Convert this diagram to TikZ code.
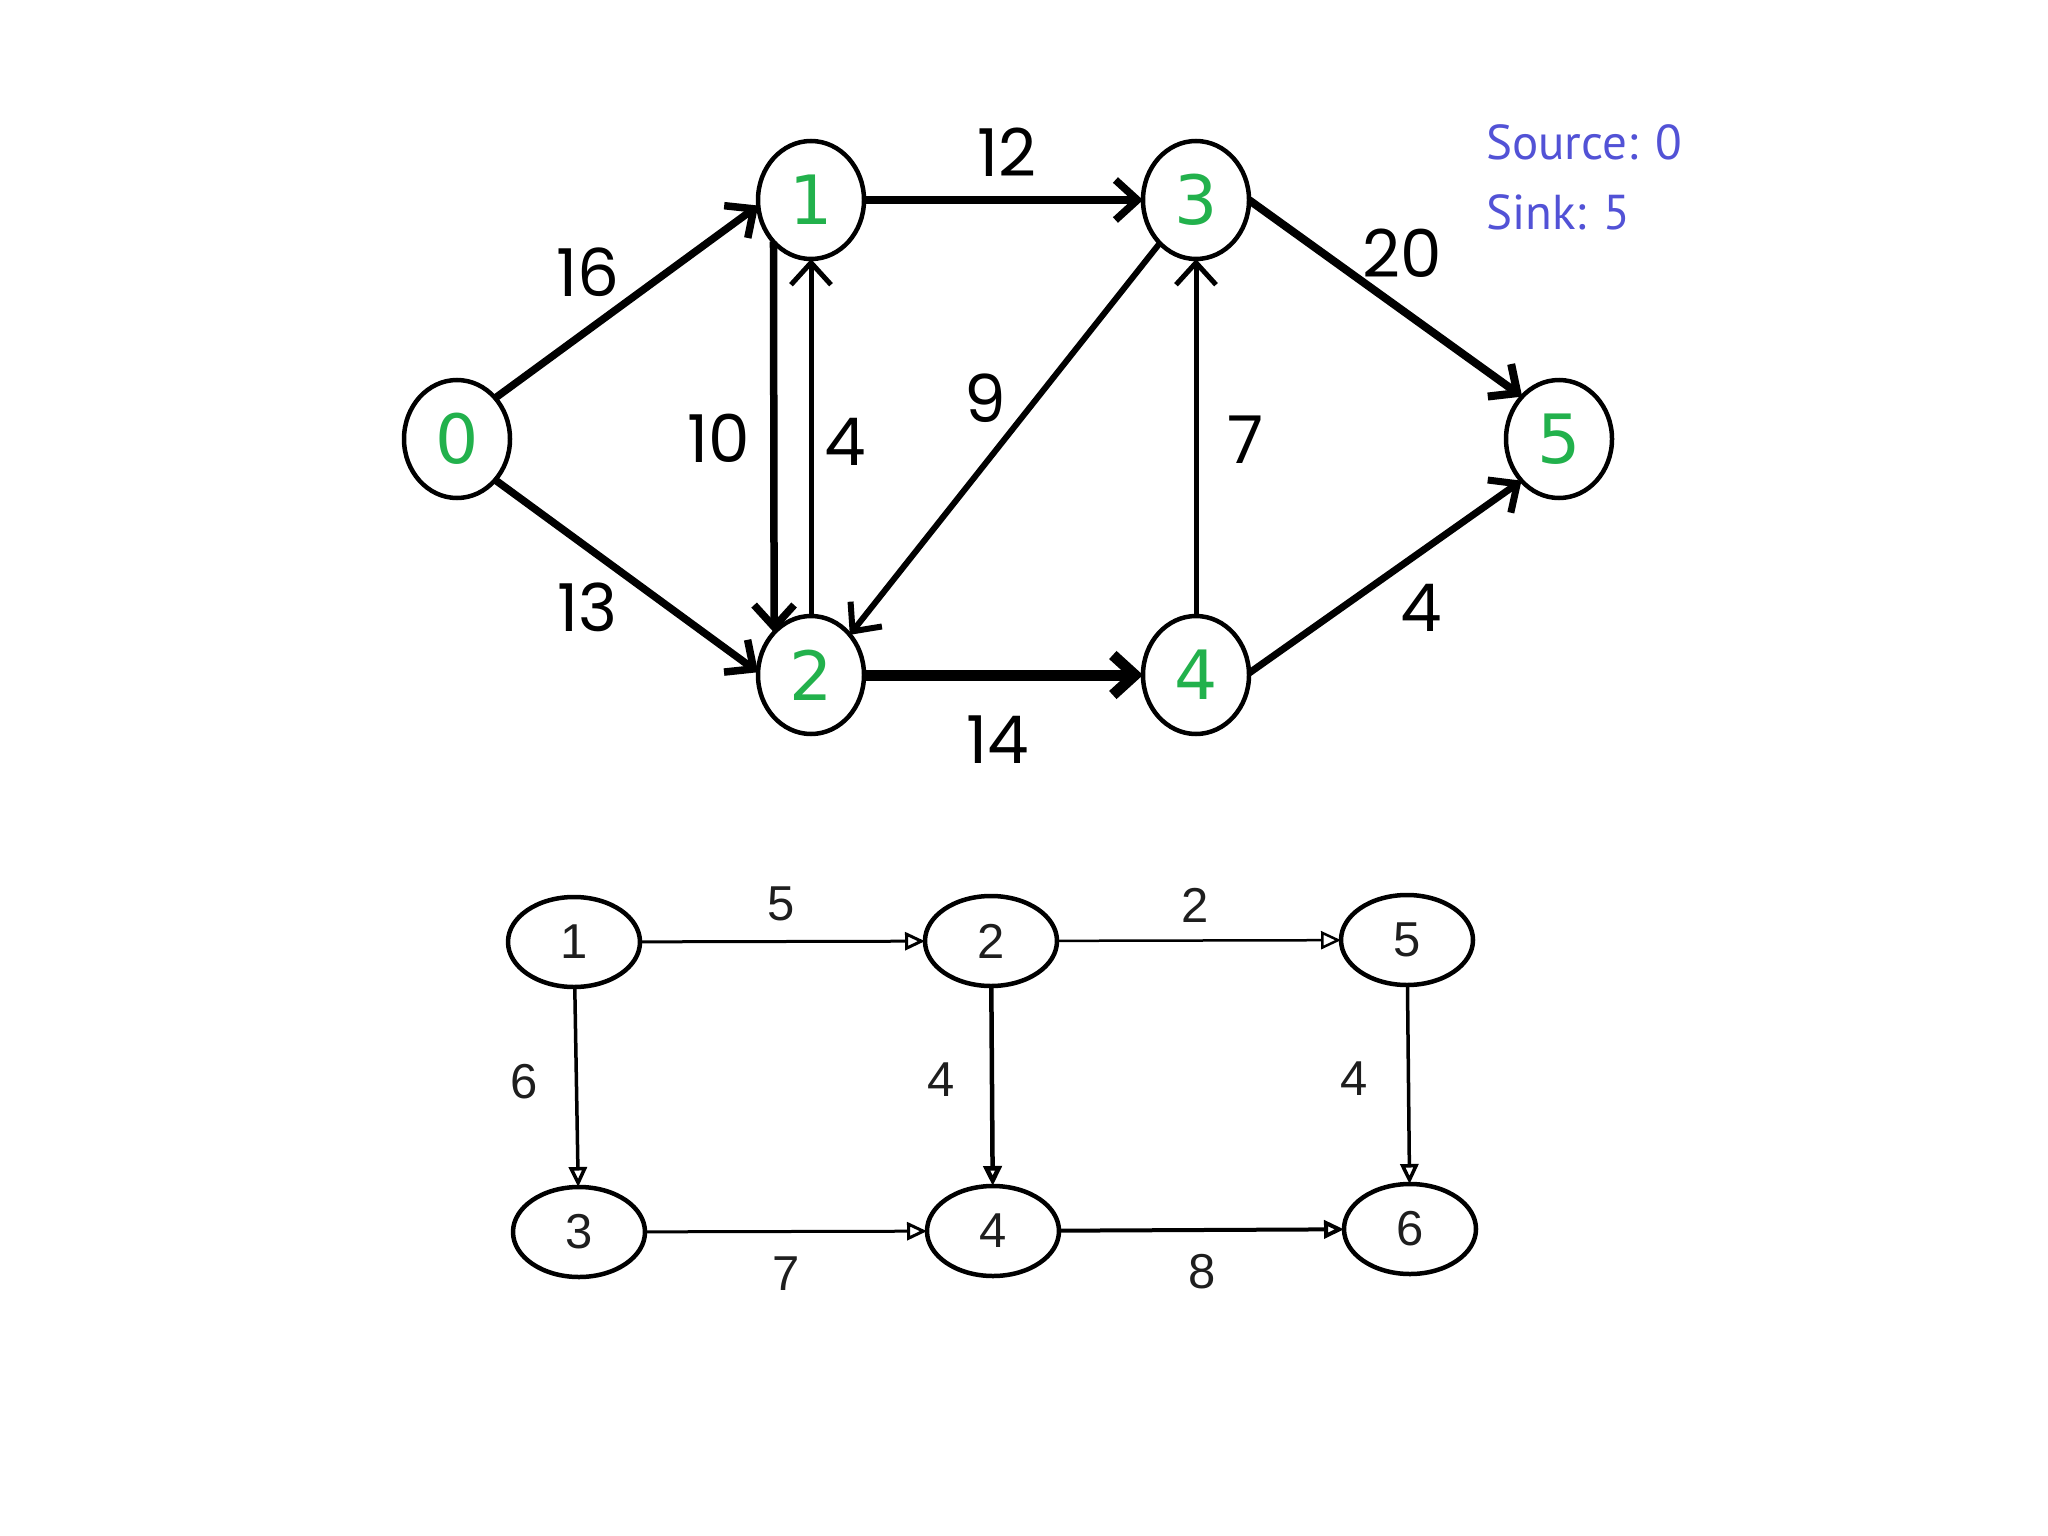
\documentclass[tikz,border=0pt]{standalone}
\usepackage{fontspec}
\setmainfont{Liberation Sans}
\newfontfamily\labfont{Poppins}
\newfontfamily\digfont{DejaVu Sans}
\newfontfamily\infofont{PT Sans}
\usetikzlibrary{arrows.meta,shapes.geometric}
\definecolor{nodegreen}{HTML}{22B14C}
\definecolor{infoblue}{HTML}{5252D6}
\definecolor{graytext}{HTML}{1E1E1E}
\begin{document}
\begin{tikzpicture}[x=1pt,y=-1pt,
  topnode/.style={ellipse,draw=black,line width=4.5pt,minimum width=106pt,minimum height=118pt,
    inner sep=0pt,outer sep=0pt,text=nodegreen,font=\digfont\fontsize{68}{68}\selectfont},
  toplabel/.style={inner sep=0pt,text=black,font=\labfont\fontsize{66}{66}\selectfont},
  topedge/.style={draw=black,line width=7.5pt,-{Straight Barb[length=22pt,width=40pt]}},
  infotext/.style={anchor=west,inner sep=0pt,text=infoblue,font=\infofont\fontsize{49}{49}\selectfont},
  botnode/.style={ellipse,draw=black,line width=4.5pt,minimum width=132pt,minimum height=90pt,
    inner sep=0pt,outer sep=0pt,text=graytext,font=\fontsize{49}{49}\selectfont},
  botlabel/.style={inner sep=0pt,text=graytext,font=\fontsize{49}{49}\selectfont},
  botedge/.style={draw=black,line width=3pt,-{Triangle[open,length=20pt,width=18pt]}}
]
\fill[white] (0,0) rectangle (2048,1536);
\useasboundingbox (0,0) rectangle (2048,1536);

% ---------- top flow network ----------
\node[topnode] (t0) at (457,439) {0};
\node[topnode] (t1) at (811,200) {1};
\node[topnode] (t2) at (811,675) {2};
\node[topnode] (t3) at (1196,200) {3};
\node[topnode] (t4) at (1196,675) {4};
\node[topnode] (t5) at (1559,439) {5};

\draw[topedge] (t0.47) -- (t1.186);
\draw[topedge] (t0.313) -- (t2.177);
\draw[topedge] (t1.east) -- (t3.west);
\draw[topedge,line width=11pt] (t2.east) -- (t4.west);
\draw[topedge] (t1.228.6) -- (t2.131.4);
\draw[topedge,line width=5pt] (t2.north) -- (t1.south);
\draw[topedge,line width=6pt] (t3.230) -- (t2.46);
\draw[topedge,line width=5pt] (t4.north) -- (t3.south);
\draw[topedge,line width=8pt] (t3.east) -- (t5.131.5);
\draw[topedge,line width=7pt] (t4.2) -- (t5.228.6);

\node[toplabel] (l01) at (588,272) {16};
\node[toplabel] (l02) at (587,607) {13};
\node[toplabel] (l13) at (1007,152) {12};
\node[toplabel] (l12) at (719,438) {10};
\node[toplabel] (l21) at (845,442) {4};
\node[toplabel] (l32) at (985,398) {9};
\node[toplabel] (l43) at (1246,440) {7};
\node[toplabel] (l35) at (1402,253) {20};
\node[toplabel] (l45) at (1421,608) {4};
\node[toplabel] (l24) at (998,740) {14};

\node[infotext] (src) at (1486,142) {Source: 0};
\node[infotext] (snk) at (1486,212) {Sink: 5};

% ---------- bottom graph ----------
\node[botnode] (b1) at (574,942) {1};
\node[botnode] (b2) at (991,941) {2};
\node[botnode] (b5) at (1407,940) {5};
\node[botnode] (b3) at (579,1232) {3};
\node[botnode] (b4) at (993,1231) {4};
\node[botnode] (b6) at (1410,1229) {6};

\draw[botedge] (b1) -- (b2);
\draw[botedge,line width=2.5pt] (b2) -- (b5);
\draw[botedge,line width=3.5pt] (b1) -- (b3);
\draw[botedge,line width=4.5pt] (b2) -- (b4);
\draw[botedge,line width=3.5pt] (b5) -- (b6);
\draw[botedge] (b3) -- (b4);
\draw[botedge,line width=4pt] (b4) -- (b6);

\node[botlabel] (m12) at (781,904) {5};
\node[botlabel] (m25) at (1195,905) {2};
\node[botlabel] (m13) at (524,1082) {6};
\node[botlabel] (m24) at (941,1080) {4};
\node[botlabel] (m56) at (1354,1079) {4};
\node[botlabel] (m34) at (786,1274) {7};
\node[botlabel] (m46) at (1202,1272) {8};
\end{tikzpicture}
\end{document}
